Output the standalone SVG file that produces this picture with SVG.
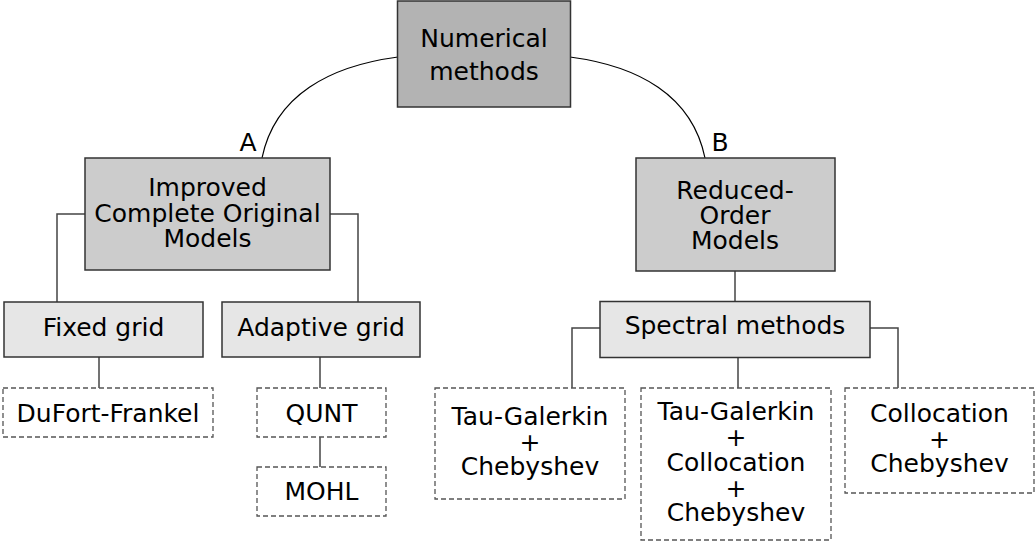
<svg xmlns="http://www.w3.org/2000/svg" width="1035" height="542" viewBox="0 0 1035 542">
<style>
text{font-family:"DejaVu Sans","Liberation Sans",sans-serif;font-size:25px;fill:#000;text-anchor:middle}
.n0{fill:#b3b3b3;stroke:#333;stroke-width:1.5}
.n1{fill:#cccccc;stroke:#333;stroke-width:1.5}
.n2{fill:#e6e6e6;stroke:#333;stroke-width:1.5}
.leaf{fill:#fff;stroke:#555;stroke-width:1.3;stroke-dasharray:5,3}
.c{fill:none;stroke:#444;stroke-width:1.5}
.arc{fill:none;stroke:#000;stroke-width:1.2}
</style>
<g id="connectors">
<path class="arc" d="M398,57 C330,66 275,95 262,158"/>
<path class="arc" d="M570,57 C638,66 692,95 705,158"/>
<path class="c" d="M85,214 H57 V302"/>
<path class="c" d="M330,214 H358 V302"/>
<path class="c" d="M99,357 V388"/>
<path class="c" d="M320,357 V388"/>
<path class="c" d="M320,437 V467"/>
<path class="c" d="M735,271 V302"/>
<path class="c" d="M600,328 H572 V388"/>
<path class="c" d="M738,357 V388"/>
<path class="c" d="M870,328 H898 V388"/>
<text x="248" y="151">A</text>
<text x="720" y="151">B</text>
</g>
<g id="numerical">
<rect class="n0" x="397.5" y="1" width="173" height="106"/>
<text x="484" y="47">Numerical<tspan x="484" dy="33">methods</tspan></text>
</g>
<g id="improved">
<rect class="n1" x="85" y="158" width="245" height="112"/>
<text x="207.5" y="196">Improved<tspan x="207.5" dy="25.5">Complete Original</tspan><tspan x="207.5" dy="25.5">Models</tspan></text>
</g>
<g id="reduced">
<rect class="n1" x="636" y="158" width="199" height="113"/>
<text x="735" y="199">Reduced-<tspan x="735" dy="25">Order</tspan><tspan x="735" dy="25">Models</tspan></text>
</g>
<g id="fixed">
<rect class="n2" x="4" y="302" width="199" height="55"/>
<text x="103.5" y="336">Fixed grid</text>
</g>
<g id="adaptive">
<rect class="n2" x="222" y="302" width="198" height="55"/>
<text x="321" y="336">Adaptive grid</text>
</g>
<g id="spectral">
<rect class="n2" x="600" y="301.5" width="270" height="56"/>
<text x="735" y="334">Spectral methods</text>
</g>
<g id="dufort">
<rect class="leaf" x="3" y="388" width="210" height="49"/>
<text x="108" y="422">DuFort-Frankel</text>
</g>
<g id="qunt">
<rect class="leaf" x="257" y="388" width="129" height="49"/>
<text x="321.5" y="422">QUNT</text>
</g>
<g id="mohl">
<rect class="leaf" x="257" y="467" width="129" height="49"/>
<text x="321.5" y="500">MOHL</text>
</g>
<g id="tau-cheb">
<rect class="leaf" x="435" y="388" width="190" height="111"/>
<text x="530" y="425">Tau-Galerkin<tspan x="530" dy="25.5">+</tspan><tspan x="530" dy="24.5">Chebyshev</tspan></text>
</g>
<g id="tau-coll-cheb">
<rect class="leaf" x="641" y="388" width="190" height="152"/>
<text x="736" y="420">Tau-Galerkin<tspan x="736" dy="25.5">+</tspan><tspan x="736" dy="25.5">Collocation</tspan><tspan x="736" dy="25.5">+</tspan><tspan x="736" dy="24.5">Chebyshev</tspan></text>
</g>
<g id="coll-cheb">
<rect class="leaf" x="845" y="388" width="189" height="105"/>
<text x="939.5" y="422">Collocation<tspan x="939.5" dy="25.5">+</tspan><tspan x="939.5" dy="24.5">Chebyshev</tspan></text>
</g>
</svg>
